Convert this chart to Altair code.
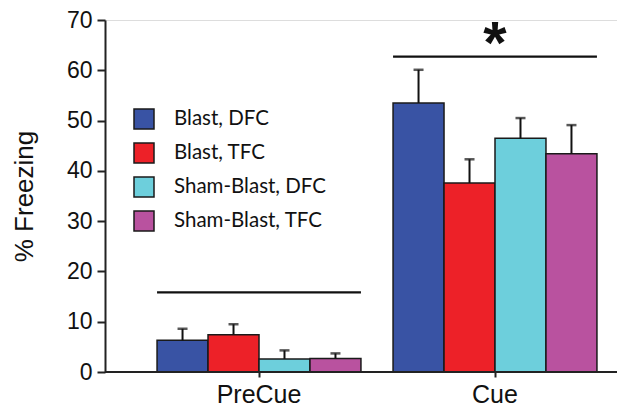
import altair as alt
import pandas as pd

categories = ["PreCue", "Cue"]
groups = ["Blast, DFC", "Blast, TFC", "Sham-Blast, DFC", "Sham-Blast, TFC"]
colors = ["#3953a4", "#ed2128", "#6dcfdc", "#b9529f"]
precue_means = [6.3, 7.4, 2.6, 2.7]
precue_err = [2.3, 2.1, 1.7, 1.0]
cue_means = [53.5, 37.6, 46.5, 43.4]
cue_err = [6.6, 4.7, 4.0, 5.7]
sig_levels = [15.6, 62.5]
sig_marks = ["", "*"]
y_ticks = [0, 10, 20, 30, 40, 50, 60, 70]

rows = []
for cat, means, errs in [("PreCue", precue_means, precue_err), ("Cue", cue_means, cue_err)]:
    for g, m, e in zip(groups, means, errs):
        rows.append({"cat": cat, "group": g, "mean": m, "top": m + e})
df = pd.DataFrame(rows)
sig = pd.DataFrame({"cat": categories, "level": sig_levels,
                    "level2": [v + 0.45 for v in sig_levels], "mark": sig_marks})

W, H = 512, 352
xscale = alt.Scale(domain=categories, range=[36, 508], paddingInner=0.136, paddingOuter=0.068)
yscale = alt.Scale(domain=[0, 70], nice=False)

x = alt.X("cat:N", scale=xscale, sort=categories,
          axis=alt.Axis(title=None, domain=False, labelAngle=0, ticks=True, tickSize=5,
                        tickWidth=2, tickColor="#222", labelFontSize=25, labelPadding=5,
                        labelFont="Liberation Sans", labelColor="#111"))
xo = alt.XOffset("group:N", sort=groups)
y = alt.Y("mean:Q", scale=yscale,
          axis=alt.Axis(title="% Freezing", values=y_ticks, grid=False, domainWidth=2,
                        domainColor="#222", tickWidth=2, tickColor="#222", tickSize=8,
                        labelFontSize=23, labelFont="Liberation Sans", labelColor="#111",
                        labelPadding=5, titleFontSize=26, titleFont="Liberation Sans",
                        titleFontWeight="normal", titleColor="#111", titlePadding=29))

bars = alt.Chart(df).mark_bar(stroke="#1a1a1a", strokeWidth=1.5).encode(
    x=x, xOffset=xo, y=y,
    color=alt.Color("group:N", sort=groups, scale=alt.Scale(domain=groups, range=colors),
                    legend=alt.Legend(title=None, orient="none", legendX=28, legendY=88,
                                      symbolType="square", symbolSize=400,
                                      symbolStrokeColor="#1a1a1a", symbolStrokeWidth=1.5,
                                      labelFont="Lato", labelFontSize=20.5, labelColor="#111",
                                      rowPadding=8, labelOffset=19, labelLimit=300)))

stems = alt.Chart(df).mark_rule(color="#111", strokeWidth=2).encode(
    x=alt.X("cat:N", scale=xscale, sort=categories), xOffset=xo,
    y=alt.Y("mean:Q", scale=yscale), y2="top:Q")

caps = alt.Chart(df).mark_tick(color="#111", size=10, thickness=2.5).encode(
    x=alt.X("cat:N", scale=xscale, sort=categories), xOffset=xo,
    y=alt.Y("top:Q", scale=yscale))

lines = alt.Chart(sig).mark_bar(color="#111").encode(
    x=alt.X("cat:N", scale=xscale, sort=categories),
    y=alt.Y("level:Q", scale=yscale), y2="level2:Q")

stars = alt.Chart(sig).mark_text(fontSize=60, fontWeight="bold", font="Liberation Sans",
                                 color="#111", baseline="alphabetic", dy=8).encode(
    x=alt.X("cat:N", scale=xscale, sort=categories),
    y=alt.Y("level2:Q", scale=yscale), text="mark:N")

baseline = alt.Chart(sig).mark_rule(color="#222", strokeWidth=2).encode(
    x=alt.value(0), x2=alt.value(W), y=alt.value(H))

chart = alt.layer(bars, stems, caps, lines, stars, baseline).properties(
    width=W, height=H, autosize=alt.AutoSizeParams(type="none"),
    padding={"left": 97, "top": 12, "right": 0, "bottom": 37}
).configure_view(stroke=None).configure(background="white")

chart.save("out.html", embed_options={"renderer": "svg", "actions": False})
